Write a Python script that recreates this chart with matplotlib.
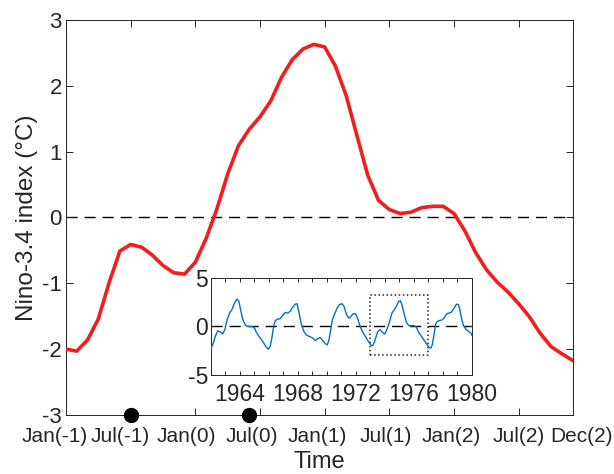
import matplotlib
matplotlib.use("Agg")
import matplotlib.pyplot as plt
from matplotlib.patches import Rectangle
from matplotlib.transforms import ScaledTranslation

plt.rcParams['font.family'] = ['Liberation Sans', 'DejaVu Sans']
plt.rcParams['axes.unicode_minus'] = False

# Composite Nino-3.4 evolution, monthly from Jan(-1) to Dec(2)
months = list(range(48))
nino_composite = [
    -2.00, -2.03, -1.86, -1.54, -0.99, -0.51, -0.41, -0.45, -0.57, -0.73, -0.84, -0.86,
    -0.68, -0.32, 0.13, 0.66, 1.09, 1.34, 1.53, 1.77, 2.13, 2.40, 2.56, 2.63,
    2.59, 2.30, 1.85, 1.24, 0.64, 0.26, 0.12, 0.06, 0.08, 0.15, 0.17, 0.17,
    0.06, -0.20, -0.53, -0.79, -0.98, -1.13, -1.31, -1.51, -1.76, -1.96, -2.07, -2.17,
]
month_ticks = [0, 6, 12, 18, 24, 30, 36, 42, 47]
month_labels = ['Jan(-1)', 'Jul(-1)', 'Jan(0)', 'Jul(0)', 'Jan(1)',
                'Jul(1)', 'Jan(2)', 'Jul(2)', 'Dec(2)']
marker_months = [6, 17]

# Nino-3.4 time series shown in the inset
years = [
    1962.00, 1962.12, 1962.30, 1962.46, 1962.65, 1962.81, 1962.95, 1963.11, 1963.28, 1963.46,
    1963.62, 1963.79, 1963.93, 1964.04, 1964.20, 1964.39, 1964.58, 1964.78, 1964.97, 1965.13,
    1965.32, 1965.50, 1965.67, 1965.83, 1965.97, 1966.08, 1966.20, 1966.32, 1966.43, 1966.59,
    1966.76, 1966.94, 1967.13, 1967.29, 1967.45, 1967.64, 1967.82, 1967.94, 1968.05, 1968.21,
    1968.38, 1968.56, 1968.79, 1969.03, 1969.19, 1969.37, 1969.54, 1969.72, 1969.91, 1970.02,
    1970.14, 1970.26, 1970.37, 1970.53, 1970.70, 1970.88, 1971.05, 1971.18, 1971.35, 1971.51,
    1971.65, 1971.81, 1971.97, 1972.11, 1972.27, 1972.44, 1972.62, 1972.79, 1972.97, 1973.09,
    1973.20, 1973.34, 1973.50, 1973.67, 1973.83, 1973.97, 1974.13, 1974.32, 1974.48, 1974.64,
    1974.78, 1974.94, 1975.06, 1975.17, 1975.34, 1975.48, 1975.64, 1975.80, 1975.99, 1976.17,
    1976.33, 1976.50, 1976.68, 1976.87, 1977.03, 1977.15, 1977.26, 1977.38, 1977.49, 1977.61,
    1977.77, 1977.96, 1978.12, 1978.26, 1978.42, 1978.58, 1978.77, 1978.93, 1979.07, 1979.19,
    1979.30, 1979.42, 1979.58, 1979.77, 1979.93, 1980.00,
]
nino_series = [
    -2.24, -1.90, -1.03, -0.45, -0.55, -0.76, -0.34, 0.69, 1.38, 1.79,
    2.41, 2.83, 2.59, 1.72, 0.69, 0.10, 0.00, 0.00, -0.07, -0.59,
    -1.03, -1.38, -1.79, -2.17, -2.34, -2.07, -1.20, 0.00, 0.59, 0.76,
    0.79, 1.14, 1.45, 1.38, 1.55, 2.00, 2.31, 2.34, 1.60, 0.34,
    -0.41, -0.86, -1.03, -1.20, -1.45, -1.24, -1.14, -1.48, -1.79, -1.90,
    -1.38, -0.34, 0.69, 1.31, 1.90, 2.28, 2.34, 2.07, 1.21, 0.86,
    1.03, 1.31, 1.31, 0.86, 0.07, -0.52, -0.97, -1.38, -1.79, -2.00,
    -1.90, -1.28, -0.52, -0.34, -0.62, -0.79, -0.34, 0.52, 1.38, 1.72,
    2.07, 2.59, 2.66, 2.24, 1.21, 0.41, 0.10, 0.07, 0.10, -0.07,
    -0.62, -0.97, -1.38, -1.79, -2.14, -2.24, -1.90, -0.86, 0.24, 0.52,
    0.62, 0.69, 0.97, 1.31, 1.38, 1.48, 1.90, 2.31, 2.24, 1.55,
    0.69, 0.07, -0.28, -0.52, -0.69, -0.90,
]
inset_years = [1964, 1968, 1972, 1976, 1980]
window_start, window_end = 1973.0, 1977.0
window_low, window_high = -2.9, 3.2

TXT = '#262626'

fig = plt.figure(figsize=(6.14, 4.74), dpi=100)
ax = fig.add_axes([0.1075, 0.1245, 0.825, 0.8333])

ax.axhline(0, color='black', lw=1, dashes=(8, 5), zorder=1)
ax.plot(months, nino_composite, color='#f21d1d', lw=2.6, zorder=3)
ax.plot(marker_months, [-3] * len(marker_months), 'o', color='black',
        markersize=10, clip_on=False, zorder=5)

ax.set_xlim(0, 47)
ax.set_ylim(-3, 3)
ax.set_xticks(month_ticks)
ax.set_xticklabels(month_labels)
ax.set_yticks(range(-3, 4))
ax.set_xlabel('Time', fontsize=17, color=TXT, labelpad=3.5)
ax.set_ylabel('Nino-3.4 index (°C)', fontsize=17.5, color=TXT, labelpad=3)
ax.tick_params(direction='in', length=5, width=0.7, top=True, right=True,
               colors=TXT)
ax.tick_params(axis='x', labelsize=15, pad=8.5)
ax.tick_params(axis='y', labelsize=16, pad=3)
for s in ax.spines.values():
    s.set_color(TXT)
    s.set_linewidth(0.7)

# spread the month labels slightly wider than their ticks
label_shift_px = [-11, -10.5, -8.5, -8.5, -7.5, -3.5, -3, 0, 8.5]
for lab, dx in zip(ax.get_xticklabels(), label_shift_px):
    lab.set_transform(lab.get_transform() +
                      ScaledTranslation(dx / 100, 0, fig.dpi_scale_trans))

# Inset with the full time series
ins = fig.add_axes([0.3436, 0.2089, 0.4251, 0.2046])
ins.axhline(0, color='black', lw=1, dashes=(8, 5), zorder=1)
ins.plot(years, nino_series, color='#0072bd', lw=1.0, zorder=3)
ins.add_patch(Rectangle((window_start, window_low), window_end - window_start,
                        window_high - window_low, fill=False, ls=':', lw=1.1,
                        edgecolor='#222222', zorder=2))
ins.set_xlim(1962, 1980)
ins.set_ylim(-5, 5)
ins.set_yticks([-5, 0, 5])
ins.set_xticks(inset_years)
ins.set_xticks(range(1962, 1981), minor=True)
ins.tick_params(which='both', direction='in', length=3, width=0.7, top=True,
                right=True, labelsize=16.5, colors=TXT)
ins.tick_params(axis='x', pad=6)
ins.tick_params(axis='y', pad=2)
for s in ins.spines.values():
    s.set_color(TXT)
    s.set_linewidth(0.7)

fig.savefig('out.png', dpi=100)
